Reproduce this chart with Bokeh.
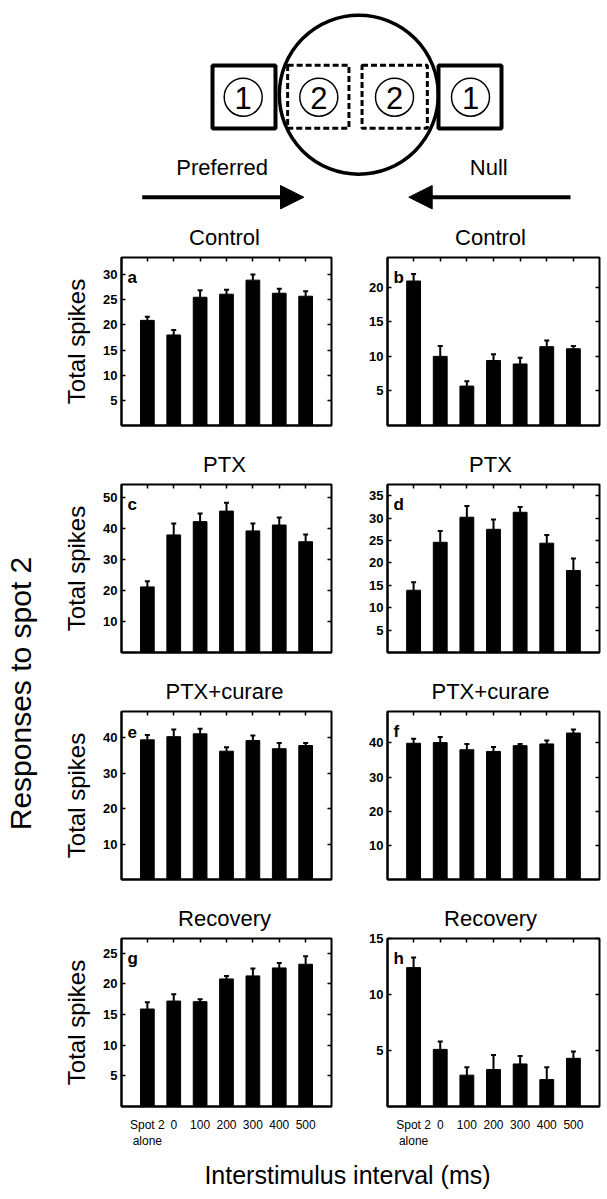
import math
from bokeh.plotting import figure
from bokeh.models import (Range1d, FixedTicker, LinearAxis, ColumnDataSource,
                          Whisker, TeeHead, Label, CustomLabelingPolicy)
from bokeh.layouts import column, row
from bokeh.embed import file_html
from bokeh.resources import INLINE
from bokeh.core.properties import value

FONT = "Liberation Sans"

# ---------------- data ----------------
categories = ["Spot 2\nalone", "0", "100", "200", "300", "400", "500"]
positions = [1, 2, 3, 4, 5, 6, 7]
row_titles = ["Control", "PTX", "PTX+curare", "Recovery"]

a_mean = [20.9, 18.0, 25.5, 26.1, 28.9, 26.3, 25.7]
a_sem = [0.7, 1.0, 1.4, 0.9, 1.1, 0.9, 1.0]
b_mean = [20.9, 10.0, 5.7, 9.4, 8.9, 11.4, 11.1]
b_sem = [1.0, 1.5, 0.7, 0.9, 0.9, 0.9, 0.4]
c_mean = [21.2, 38.0, 42.3, 45.7, 39.3, 41.2, 35.8]
c_sem = [1.8, 3.7, 2.6, 2.7, 2.4, 2.4, 2.3]
d_mean = [13.9, 24.6, 30.2, 27.5, 31.3, 24.4, 18.3]
d_sem = [1.8, 2.5, 2.5, 2.2, 1.2, 1.8, 2.7]
e_mean = [39.4, 40.3, 41.1, 36.2, 39.2, 36.9, 37.8]
e_sem = [1.4, 2.0, 1.4, 1.1, 1.4, 1.6, 0.7]
f_mean = [39.9, 40.1, 38.0, 37.5, 39.2, 39.7, 42.9]
f_sem = [1.3, 1.6, 1.7, 1.3, 0.5, 1.0, 1.0]
g_mean = [15.9, 17.2, 17.1, 20.8, 21.3, 22.6, 23.2]
g_sem = [1.1, 1.1, 0.4, 0.5, 1.2, 0.8, 1.3]
h_mean = [12.4, 5.1, 2.8, 3.3, 3.8, 2.4, 4.3]
h_sem = [0.9, 0.7, 0.7, 1.3, 0.7, 1.1, 0.6]

a_ticks = [5, 10, 15, 20, 25, 30]
b_ticks = [5, 10, 15, 20]
c_ticks = [10, 20, 30, 40, 50]
d_ticks = [5, 10, 15, 20, 25, 30, 35]
e_ticks = [10, 20, 30, 40]
f_ticks = [10, 20, 30, 40]
g_ticks = [5, 10, 15, 20, 25]
h_ticks = [5, 10, 15]

a_ymax, b_ymax, c_ymax, d_ymax = 33.4, 24.3, 54.3, 37.5
e_ymax, f_ymax, g_ymax, h_ymax = 47.4, 49.2, 27.4, 15.0

FW, FH = 212, 168        # frame size of each panel
STRIP = 38               # height of the title strip above each row
MBT = 7                  # border above each frame


def no_labels():
    return CustomLabelingPolicy(code="return new Set()")


def hidden_axis(ticks):
    return LinearAxis(ticker=FixedTicker(ticks=ticks),
                      major_label_policy=no_labels(),
                      major_label_text_font_size="1px",
                      major_label_standoff=0,
                      major_tick_in=4, major_tick_out=0,
                      major_tick_line_width=1.5,
                      major_tick_line_color="black",
                      minor_tick_line_color=None,
                      axis_line_color=None)


def panel(letter, mean, sem, ticks, ymax, left_col, bottom_row):
    mbl, mbr = (71, 2) if left_col else (52, 8)
    mbb = 45 if bottom_row else 14
    p = figure(width=mbl + FW + mbr, height=MBT + FH + mbb,
               x_range=Range1d(0.02, 7.98), y_range=Range1d(0, ymax),
               toolbar_location=None, output_backend="svg",
               min_border_left=mbl, min_border_right=mbr,
               min_border_top=MBT, min_border_bottom=mbb)
    p.grid.visible = False
    p.outline_line_color = "black"
    p.outline_line_width = 2
    p.outline_line_alpha = 1

    ya = p.yaxis[0]
    ya.ticker = FixedTicker(ticks=ticks)
    ya.major_tick_in = 4
    ya.major_tick_out = 0
    ya.major_tick_line_width = 1.5
    ya.major_tick_line_color = "black"
    ya.minor_tick_line_color = None
    ya.axis_line_width = 2
    ya.axis_line_color = "black"
    ya.major_label_text_font = FONT
    ya.major_label_text_font_size = "13px"
    ya.major_label_text_font_style = "bold"
    ya.major_label_text_color = "black"
    ya.major_label_standoff = 4
    if left_col:
        ya.axis_label = "Total spikes"
        ya.axis_label_text_font = FONT
        ya.axis_label_text_font_size = "24px"
        ya.axis_label_text_font_style = "normal"
        ya.axis_label_text_color = "black"
        ya.axis_label_standoff = 10

    xa = p.xaxis[0]
    xa.ticker = FixedTicker(ticks=positions)
    xa.major_tick_in = 4
    xa.major_tick_out = 0
    xa.major_tick_line_width = 1.5
    xa.major_tick_line_color = "black"
    xa.minor_tick_line_color = None
    xa.axis_line_width = 2
    xa.axis_line_color = "black"
    xa.major_label_text_font = FONT
    xa.major_label_text_color = "black"
    if bottom_row:
        xa.major_label_overrides = {pos: cat for pos, cat in zip(positions, categories)}
        xa.major_label_text_font_size = "12px"
        xa.major_label_standoff = 11
    else:
        xa.major_label_policy = no_labels()
        xa.major_label_text_font_size = "1px"
        xa.major_label_standoff = 0

    p.add_layout(hidden_axis(positions), "above")
    p.add_layout(hidden_axis(ticks), "right")

    src = ColumnDataSource(dict(x=positions, top=mean,
                                upper=[m + s for m, s in zip(mean, sem)]))
    p.vbar(x="x", top="top", bottom=0, width=0.52, source=src,
           fill_color="black", line_color="black")
    p.add_layout(Whisker(source=src, base="x", lower="top", upper="upper",
                         line_width=2, line_color="black",
                         upper_head=TeeHead(size=5, line_width=2, line_color="black"),
                         lower_head=None))
    p.add_layout(Label(x=6, y=FH - 20, x_units="screen", y_units="screen",
                       text=letter, text_font=FONT, text_font_size="17px",
                       text_font_style="bold", text_color="black",
                       text_baseline="alphabetic"))
    return p


def title_strip(title, frame_top):
    # strip in page-pixel coordinates, x from 50 to 607
    s = figure(width=557, height=STRIP, x_range=Range1d(50, 607),
               y_range=Range1d(frame_top - MBT, frame_top - MBT - STRIP),
               x_axis_type=None, y_axis_type=None, toolbar_location=None,
               output_backend="svg", min_border=0)
    s.outline_line_color = None
    s.grid.visible = False
    s.text(x=[224, 490], y=[frame_top - 20] * 2, text=[title, title],
           text_font=value(FONT), text_font_size="22px", text_align="center",
           text_baseline="middle", text_color="black")
    return s


pa = panel("a", a_mean, a_sem, a_ticks, a_ymax, True, False)
pb = panel("b", b_mean, b_sem, b_ticks, b_ymax, False, False)
pc = panel("c", c_mean, c_sem, c_ticks, c_ymax, True, False)
pd = panel("d", d_mean, d_sem, d_ticks, d_ymax, False, False)
pe = panel("e", e_mean, e_sem, e_ticks, e_ymax, True, False)
pf = panel("f", f_mean, f_sem, f_ticks, f_ymax, False, False)
pg = panel("g", g_mean, g_sem, g_ticks, g_ymax, True, True)
ph = panel("h", h_mean, h_sem, h_ticks, h_ymax, False, True)

# ---------------- stimulus diagram ----------------
dg = figure(width=607, height=212, x_range=Range1d(0, 607), y_range=Range1d(212, 0),
            x_axis_type=None, y_axis_type=None, toolbar_location=None,
            output_backend="svg", min_border=0)
dg.outline_line_color = None
dg.grid.visible = False
dg.rect(x=[243.5, 469.5], y=[96.5, 96.5], width=[63, 63], height=[63, 63],
        fill_color=None, line_color="black", line_width=4)
dg.rect(x=[317.8, 394.2], y=[96.3, 96.3], width=[61.3, 65.3], height=[63, 63],
        fill_color=None, line_color="black", line_width=3, line_dash="6 3")
dg.circle(x=[358.3], y=[94.2], radius=79.5, fill_color=None,
          line_color="black", line_width=3.5)
dg.circle(x=[242.7, 318.3, 394.0, 470.0], y=[96.7] * 4, radius=19,
          fill_color=None, line_color="black", line_width=1.5)
dg.text(x=[242.7, 318.3, 394.0, 470.0], y=[97] * 4, text=["1", "2", "2", "1"],
        text_font=value(FONT), text_font_size="31px", text_align="center",
        text_baseline="middle", text_color="black")
dg.text(x=[221.7, 488.3], y=[167, 167], text=["Preferred", "Null"],
        text_font=value(FONT), text_font_size="22px", text_align="center",
        text_baseline="middle", text_color="black")
dg.segment(x0=[141.7, 570], y0=[196.7, 196.7], x1=[285, 425], y1=[196.7, 196.7],
           line_color="black", line_width=4)
dg.patches(xs=[[303.3, 280, 280], [408.3, 431.7, 431.7]],
           ys=[[196.7, 185, 208.4], [196.7, 185, 208.4]],
           fill_color="black", line_color="black")

# ---------------- outer labels ----------------
lf = figure(width=50, height=939, x_range=Range1d(0, 50), y_range=Range1d(1151, 212),
            x_axis_type=None, y_axis_type=None, toolbar_location=None,
            output_backend="svg", min_border=0)
lf.outline_line_color = None
lf.grid.visible = False
lf.text(x=[20], y=[693], text=["Responses to spot 2"], angle=math.pi / 2,
        text_font=value(FONT), text_font_size="30px", text_align="center",
        text_baseline="middle", text_color="black")

xf = figure(width=607, height=46, x_range=Range1d(0, 607), y_range=Range1d(1197, 1151),
            x_axis_type=None, y_axis_type=None, toolbar_location=None,
            output_backend="svg", min_border=0)
xf.outline_line_color = None
xf.grid.visible = False
xf.text(x=[347], y=[1174.5], text=["Interstimulus interval (ms)"],
        text_font=value(FONT), text_font_size="25px", text_align="center",
        text_baseline="middle", text_color="black")

frame_tops = [257, 484, 711, 938]
panel_rows = [(pa, pb), (pc, pd), (pe, pf), (pg, ph)]
blocks = []
for t, ft, (left, right) in zip(row_titles, frame_tops, panel_rows):
    blocks.append(title_strip(t, ft))
    blocks.append(row(left, right))
panels = column(*blocks)
layout = column(dg, row(lf, panels), xf)

open("out.html", "w").write(file_html(layout, INLINE))
